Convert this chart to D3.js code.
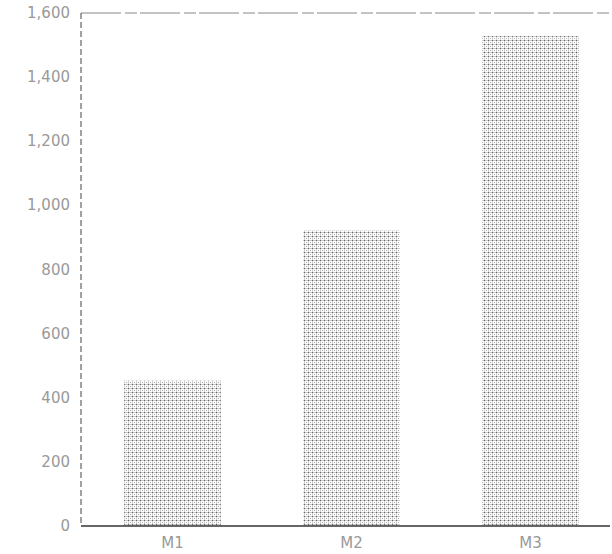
<!DOCTYPE html>
<html>
<head>
<meta charset="utf-8">
<script src="https://cdn.jsdelivr.net/npm/d3@7"></script>
<style>
  body { margin: 0; background: #fff; }
  svg { display: block; }
</style>
</head>
<body>
<div id="chart"></div>
<script>
var categories = ["M1", "M2", "M3"];
var values = [453, 922, 1528];
var yTicks = [0, 200, 400, 600, 800, 1000, 1200, 1400, 1600];

var width = 612, height = 554;
var plotLeft = 81, plotTop = 13, plotBottom = 526, plotRight = 610;

var svg = d3.select("#chart").append("svg")
    .attr("width", width)
    .attr("height", height);

// stippled fill like the scanned original
var defs = svg.append("defs");
var pat = defs.append("pattern")
    .attr("id", "dots")
    .attr("patternUnits", "userSpaceOnUse")
    .attr("width", 4)
    .attr("height", 4);
pat.append("rect").attr("width", 4).attr("height", 4).attr("fill", "#fff");
pat.append("rect").attr("x", 0).attr("y", 0).attr("width", 4).attr("height", 1).attr("fill", "#c8c8c8");
pat.append("rect").attr("x", 0).attr("y", 0).attr("width", 1).attr("height", 4).attr("fill", "#d0d0d0");
pat.append("rect").attr("x", 0).attr("y", 0).attr("width", 1).attr("height", 1).attr("fill", "#666");
pat.append("rect").attr("x", 2).attr("y", 2).attr("width", 1).attr("height", 1).attr("fill", "#aaa");

var x = d3.scaleBand()
    .domain(categories)
    .range([83, 620])
    .paddingInner(0.46)
    .paddingOuter(0.23);

var y = d3.scaleLinear()
    .domain([0, 1600])
    .range([plotBottom, plotTop]);

// frame: top line and dashed left axis
svg.append("line")
    .attr("x1", plotLeft).attr("x2", plotRight)
    .attr("y1", y(1600)).attr("y2", y(1600))
    .attr("stroke", "#888")
    .attr("stroke-width", 1)
    .attr("stroke-dasharray", "40,4,12,3");

svg.append("line")
    .attr("x1", plotLeft).attr("x2", plotLeft)
    .attr("y1", y(1600)).attr("y2", plotBottom)
    .attr("stroke", "#444")
    .attr("stroke-width", 1)
    .attr("stroke-dasharray", "6,3");

// bars
svg.selectAll("rect.bar")
    .data(values)
    .enter().append("rect")
    .attr("class", "bar")
    .attr("x", function(d, i){ return x(categories[i]); })
    .attr("y", function(d){ return y(d); })
    .attr("width", x.bandwidth())
    .attr("height", function(d){ return plotBottom - y(d); })
    .attr("fill", "url(#dots)");

// bottom axis line
svg.append("line")
    .attr("x1", plotLeft).attr("x2", plotRight)
    .attr("y1", plotBottom).attr("y2", plotBottom)
    .attr("stroke", "#333")
    .attr("stroke-width", 1.5);

// y tick labels
svg.selectAll("text.ytick")
    .data(yTicks)
    .enter().append("text")
    .attr("class", "ytick")
    .attr("x", 70)
    .attr("y", function(d){ return y(d) + 5; })
    .attr("text-anchor", "end")
    .attr("font-family", "DejaVu Sans")
    .attr("font-size", 15)
    .attr("fill", "#999")
    .text(function(d){ return d3.format(",")(d); });

// x labels
svg.selectAll("text.xlab")
    .data(categories)
    .enter().append("text")
    .attr("class", "xlab")
    .attr("x", function(d){ return x(d) + x.bandwidth() / 2; })
    .attr("y", 548)
    .attr("text-anchor", "middle")
    .attr("font-family", "DejaVu Sans")
    .attr("font-size", 15)
    .attr("fill", "#999")
    .text(function(d){ return d; });
</script>
</body>
</html>
